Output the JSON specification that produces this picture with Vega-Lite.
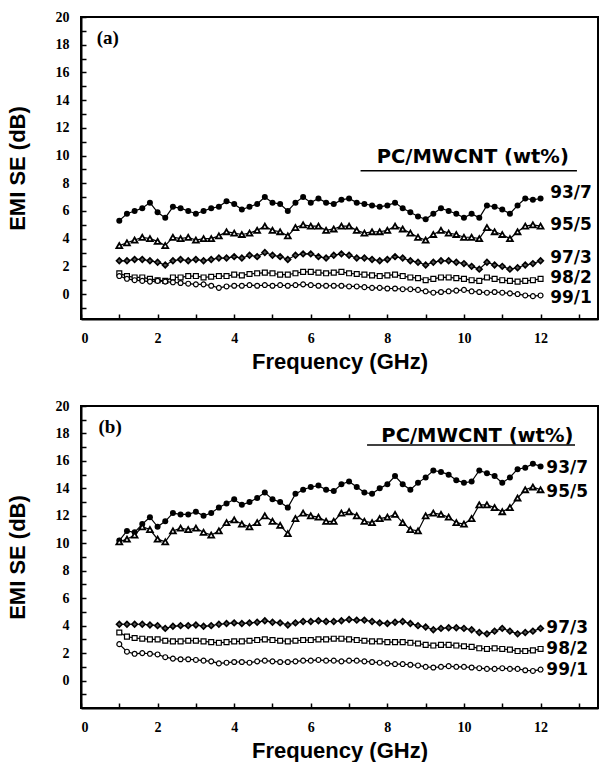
{
"$schema":"https://vega.github.io/schema/vega-lite/v6.json",
"background":"white",
"padding":{"left":5,"top":9,"right":0,"bottom":0},
"spacing":25,
"config":{
 "view":{"stroke":"black","strokeWidth":2},
 "axis":{"grid":false,"domainColor":"black","domainWidth":2,"tickColor":"black","tickWidth":1.5,"tickSize":-5,"labelFont":"Liberation Serif","labelFontWeight":"bold","labelFontSize":14,"labelColor":"black","labelPadding":17,"titleFont":"Liberation Sans","titleFontWeight":"bold","titleFontSize":22,"titleColor":"black"},
 "axisX":{"titlePadding":6},
 "axisY":{"titlePadding":26}
},
"datasets":{
"a93":[{"f":1,"v":5.3},{"f":1.2,"v":5.8},{"f":1.4,"v":6.0},{"f":1.6,"v":6.2},{"f":1.8,"v":6.6},{"f":2,"v":5.9},{"f":2.2,"v":5.5},{"f":2.4,"v":6.3},{"f":2.6,"v":6.2},{"f":2.8,"v":6.0},{"f":3,"v":5.8},{"f":3.2,"v":6.0},{"f":3.4,"v":6.2},{"f":3.6,"v":6.3},{"f":3.8,"v":6.7},{"f":4,"v":6.5},{"f":4.2,"v":6.1},{"f":4.4,"v":6.3},{"f":4.6,"v":6.5},{"f":4.8,"v":7.0},{"f":5,"v":6.6},{"f":5.2,"v":6.5},{"f":5.4,"v":6.0},{"f":5.6,"v":6.6},{"f":5.8,"v":7.0},{"f":6,"v":6.6},{"f":6.2,"v":6.9},{"f":6.4,"v":6.6},{"f":6.6,"v":6.5},{"f":6.8,"v":6.8},{"f":7,"v":6.9},{"f":7.2,"v":6.6},{"f":7.4,"v":6.5},{"f":7.6,"v":6.4},{"f":7.8,"v":6.3},{"f":8,"v":6.4},{"f":8.2,"v":6.6},{"f":8.4,"v":6.2},{"f":8.6,"v":5.9},{"f":8.8,"v":5.6},{"f":9,"v":5.4},{"f":9.2,"v":5.8},{"f":9.4,"v":6.2},{"f":9.6,"v":6.0},{"f":9.8,"v":5.8},{"f":10,"v":5.5},{"f":10.2,"v":5.8},{"f":10.4,"v":5.5},{"f":10.6,"v":6.4},{"f":10.8,"v":6.3},{"f":11,"v":6.1},{"f":11.2,"v":5.8},{"f":11.4,"v":6.4},{"f":11.6,"v":6.9},{"f":11.8,"v":6.8},{"f":12,"v":6.9}],
"a95":[{"f":1,"v":3.5},{"f":1.2,"v":3.7},{"f":1.4,"v":3.9},{"f":1.6,"v":4.1},{"f":1.8,"v":4.0},{"f":2,"v":3.8},{"f":2.2,"v":3.5},{"f":2.4,"v":4.1},{"f":2.6,"v":4.0},{"f":2.8,"v":4.1},{"f":3,"v":3.9},{"f":3.2,"v":4.0},{"f":3.4,"v":4.0},{"f":3.6,"v":4.2},{"f":3.8,"v":4.5},{"f":4,"v":4.4},{"f":4.2,"v":4.3},{"f":4.4,"v":4.4},{"f":4.6,"v":4.6},{"f":4.8,"v":4.9},{"f":5,"v":4.6},{"f":5.2,"v":4.5},{"f":5.4,"v":4.2},{"f":5.6,"v":4.8},{"f":5.8,"v":5.0},{"f":6,"v":4.9},{"f":6.2,"v":4.9},{"f":6.4,"v":4.6},{"f":6.6,"v":4.7},{"f":6.8,"v":4.9},{"f":7,"v":4.9},{"f":7.2,"v":4.6},{"f":7.4,"v":4.4},{"f":7.6,"v":4.5},{"f":7.8,"v":4.5},{"f":8,"v":4.6},{"f":8.2,"v":4.9},{"f":8.4,"v":4.7},{"f":8.6,"v":4.4},{"f":8.8,"v":4.1},{"f":9,"v":3.9},{"f":9.2,"v":4.3},{"f":9.4,"v":4.6},{"f":9.6,"v":4.4},{"f":9.8,"v":4.3},{"f":10,"v":4.1},{"f":10.2,"v":4.1},{"f":10.4,"v":4.0},{"f":10.6,"v":4.8},{"f":10.8,"v":4.5},{"f":11,"v":4.3},{"f":11.2,"v":4.0},{"f":11.4,"v":4.5},{"f":11.6,"v":4.9},{"f":11.8,"v":5.0},{"f":12,"v":4.9}],
"a97":[{"f":1,"v":2.4},{"f":1.2,"v":2.4},{"f":1.4,"v":2.5},{"f":1.6,"v":2.5},{"f":1.8,"v":2.4},{"f":2,"v":2.3},{"f":2.2,"v":2.1},{"f":2.4,"v":2.4},{"f":2.6,"v":2.5},{"f":2.8,"v":2.4},{"f":3,"v":2.5},{"f":3.2,"v":2.4},{"f":3.4,"v":2.5},{"f":3.6,"v":2.6},{"f":3.8,"v":2.6},{"f":4,"v":2.7},{"f":4.2,"v":2.6},{"f":4.4,"v":2.8},{"f":4.6,"v":2.7},{"f":4.8,"v":3.0},{"f":5,"v":2.8},{"f":5.2,"v":2.7},{"f":5.4,"v":2.5},{"f":5.6,"v":2.8},{"f":5.8,"v":2.9},{"f":6,"v":2.9},{"f":6.2,"v":2.7},{"f":6.4,"v":2.6},{"f":6.6,"v":2.8},{"f":6.8,"v":2.9},{"f":7,"v":2.8},{"f":7.2,"v":2.6},{"f":7.4,"v":2.6},{"f":7.6,"v":2.5},{"f":7.8,"v":2.4},{"f":8,"v":2.5},{"f":8.2,"v":2.7},{"f":8.4,"v":2.6},{"f":8.6,"v":2.4},{"f":8.8,"v":2.3},{"f":9,"v":2.1},{"f":9.2,"v":2.3},{"f":9.4,"v":2.4},{"f":9.6,"v":2.4},{"f":9.8,"v":2.3},{"f":10,"v":2.2},{"f":10.2,"v":2.0},{"f":10.4,"v":1.8},{"f":10.6,"v":2.3},{"f":10.8,"v":2.1},{"f":11,"v":2.0},{"f":11.2,"v":1.8},{"f":11.4,"v":1.9},{"f":11.6,"v":2.1},{"f":11.8,"v":2.2},{"f":12,"v":2.4}],
"a98":[{"f":1,"v":1.5},{"f":1.2,"v":1.3},{"f":1.4,"v":1.2},{"f":1.6,"v":1.2},{"f":1.8,"v":1.1},{"f":2,"v":1.0},{"f":2.2,"v":0.95},{"f":2.4,"v":1.2},{"f":2.6,"v":1.2},{"f":2.8,"v":1.3},{"f":3,"v":1.3},{"f":3.2,"v":1.2},{"f":3.4,"v":1.25},{"f":3.6,"v":1.3},{"f":3.8,"v":1.3},{"f":4,"v":1.4},{"f":4.2,"v":1.35},{"f":4.4,"v":1.45},{"f":4.6,"v":1.5},{"f":4.8,"v":1.55},{"f":5,"v":1.5},{"f":5.2,"v":1.4},{"f":5.4,"v":1.4},{"f":5.6,"v":1.5},{"f":5.8,"v":1.6},{"f":6,"v":1.6},{"f":6.2,"v":1.55},{"f":6.4,"v":1.5},{"f":6.6,"v":1.55},{"f":6.8,"v":1.6},{"f":7,"v":1.5},{"f":7.2,"v":1.45},{"f":7.4,"v":1.4},{"f":7.6,"v":1.35},{"f":7.8,"v":1.3},{"f":8,"v":1.35},{"f":8.2,"v":1.4},{"f":8.4,"v":1.3},{"f":8.6,"v":1.2},{"f":8.8,"v":1.15},{"f":9,"v":1.0},{"f":9.2,"v":1.1},{"f":9.4,"v":1.2},{"f":9.6,"v":1.2},{"f":9.8,"v":1.15},{"f":10,"v":1.1},{"f":10.2,"v":1.0},{"f":10.4,"v":0.95},{"f":10.6,"v":1.2},{"f":10.8,"v":1.1},{"f":11,"v":1.0},{"f":11.2,"v":0.95},{"f":11.4,"v":0.9},{"f":11.6,"v":0.95},{"f":11.8,"v":1.0},{"f":12,"v":1.1}],
"a99":[{"f":1,"v":1.3},{"f":1.2,"v":1.1},{"f":1.4,"v":1.0},{"f":1.6,"v":0.95},{"f":1.8,"v":0.9},{"f":2,"v":0.95},{"f":2.2,"v":0.9},{"f":2.4,"v":0.85},{"f":2.6,"v":0.8},{"f":2.8,"v":0.75},{"f":3,"v":0.7},{"f":3.2,"v":0.7},{"f":3.4,"v":0.6},{"f":3.6,"v":0.45},{"f":3.8,"v":0.55},{"f":4,"v":0.6},{"f":4.2,"v":0.6},{"f":4.4,"v":0.65},{"f":4.6,"v":0.6},{"f":4.8,"v":0.65},{"f":5,"v":0.6},{"f":5.2,"v":0.65},{"f":5.4,"v":0.6},{"f":5.6,"v":0.65},{"f":5.8,"v":0.7},{"f":6,"v":0.65},{"f":6.2,"v":0.6},{"f":6.4,"v":0.6},{"f":6.6,"v":0.6},{"f":6.8,"v":0.6},{"f":7,"v":0.55},{"f":7.2,"v":0.55},{"f":7.4,"v":0.5},{"f":7.6,"v":0.45},{"f":7.8,"v":0.45},{"f":8,"v":0.4},{"f":8.2,"v":0.4},{"f":8.4,"v":0.35},{"f":8.6,"v":0.35},{"f":8.8,"v":0.3},{"f":9,"v":0.2},{"f":9.2,"v":0.1},{"f":9.4,"v":0.15},{"f":9.6,"v":0.2},{"f":9.8,"v":0.25},{"f":10,"v":0.3},{"f":10.2,"v":0.2},{"f":10.4,"v":0.15},{"f":10.6,"v":0.1},{"f":10.8,"v":0.15},{"f":11,"v":0.1},{"f":11.2,"v":0.05},{"f":11.4,"v":0.0},{"f":11.6,"v":-0.1},{"f":11.8,"v":-0.15},{"f":12,"v":-0.1}],
"b93":[{"f":1,"v":10.2},{"f":1.2,"v":10.9},{"f":1.4,"v":10.8},{"f":1.6,"v":11.4},{"f":1.8,"v":11.9},{"f":2,"v":11.2},{"f":2.2,"v":11.6},{"f":2.4,"v":12.2},{"f":2.6,"v":12.1},{"f":2.8,"v":12.1},{"f":3,"v":12.3},{"f":3.2,"v":12.0},{"f":3.4,"v":12.2},{"f":3.6,"v":12.6},{"f":3.8,"v":12.9},{"f":4,"v":13.2},{"f":4.2,"v":12.8},{"f":4.4,"v":13.0},{"f":4.6,"v":13.3},{"f":4.8,"v":13.7},{"f":5,"v":13.2},{"f":5.2,"v":13.0},{"f":5.4,"v":12.6},{"f":5.6,"v":13.6},{"f":5.8,"v":13.9},{"f":6,"v":14.1},{"f":6.2,"v":14.2},{"f":6.4,"v":13.9},{"f":6.6,"v":13.8},{"f":6.8,"v":14.3},{"f":7,"v":14.5},{"f":7.2,"v":14.1},{"f":7.4,"v":13.7},{"f":7.6,"v":13.6},{"f":7.8,"v":14.0},{"f":8,"v":14.3},{"f":8.2,"v":14.9},{"f":8.4,"v":14.3},{"f":8.6,"v":13.9},{"f":8.8,"v":14.4},{"f":9,"v":14.8},{"f":9.2,"v":15.3},{"f":9.4,"v":15.2},{"f":9.6,"v":15.0},{"f":9.8,"v":14.6},{"f":10,"v":14.4},{"f":10.2,"v":14.5},{"f":10.4,"v":15.3},{"f":10.6,"v":15.1},{"f":10.8,"v":14.9},{"f":11,"v":14.4},{"f":11.2,"v":14.8},{"f":11.4,"v":15.4},{"f":11.6,"v":15.5},{"f":11.8,"v":15.8},{"f":12,"v":15.6}],
"b95":[{"f":1,"v":10.1},{"f":1.2,"v":10.3},{"f":1.4,"v":10.6},{"f":1.6,"v":11.2},{"f":1.8,"v":11.0},{"f":2,"v":10.3},{"f":2.2,"v":10.1},{"f":2.4,"v":10.9},{"f":2.6,"v":11.1},{"f":2.8,"v":11.0},{"f":3,"v":11.1},{"f":3.2,"v":10.8},{"f":3.4,"v":10.6},{"f":3.6,"v":10.9},{"f":3.8,"v":11.5},{"f":4,"v":11.7},{"f":4.2,"v":11.4},{"f":4.4,"v":11.2},{"f":4.6,"v":11.5},{"f":4.8,"v":12.0},{"f":5,"v":11.6},{"f":5.2,"v":11.3},{"f":5.4,"v":10.7},{"f":5.6,"v":11.8},{"f":5.8,"v":12.2},{"f":6,"v":12.0},{"f":6.2,"v":11.9},{"f":6.4,"v":11.6},{"f":6.6,"v":11.6},{"f":6.8,"v":12.2},{"f":7,"v":12.3},{"f":7.2,"v":12.0},{"f":7.4,"v":11.6},{"f":7.6,"v":11.5},{"f":7.8,"v":11.8},{"f":8,"v":11.9},{"f":8.2,"v":12.1},{"f":8.4,"v":11.5},{"f":8.6,"v":11.0},{"f":8.8,"v":10.9},{"f":9,"v":12.0},{"f":9.2,"v":12.2},{"f":9.4,"v":12.1},{"f":9.6,"v":11.9},{"f":9.8,"v":11.5},{"f":10,"v":11.4},{"f":10.2,"v":11.8},{"f":10.4,"v":12.8},{"f":10.6,"v":12.8},{"f":10.8,"v":12.6},{"f":11,"v":12.3},{"f":11.2,"v":12.6},{"f":11.4,"v":13.3},{"f":11.6,"v":13.9},{"f":11.8,"v":14.1},{"f":12,"v":13.9}],
"b97":[{"f":1,"v":4.1},{"f":1.2,"v":4.1},{"f":1.4,"v":4.1},{"f":1.6,"v":4.1},{"f":1.8,"v":4.05},{"f":2,"v":4.0},{"f":2.2,"v":3.8},{"f":2.4,"v":3.95},{"f":2.6,"v":4.0},{"f":2.8,"v":4.0},{"f":3,"v":4.05},{"f":3.2,"v":3.95},{"f":3.4,"v":4.0},{"f":3.6,"v":4.1},{"f":3.8,"v":4.15},{"f":4,"v":4.2},{"f":4.2,"v":4.15},{"f":4.4,"v":4.2},{"f":4.6,"v":4.25},{"f":4.8,"v":4.35},{"f":5,"v":4.25},{"f":5.2,"v":4.2},{"f":5.4,"v":4.05},{"f":5.6,"v":4.2},{"f":5.8,"v":4.3},{"f":6,"v":4.3},{"f":6.2,"v":4.35},{"f":6.4,"v":4.3},{"f":6.6,"v":4.3},{"f":6.8,"v":4.35},{"f":7,"v":4.45},{"f":7.2,"v":4.4},{"f":7.4,"v":4.4},{"f":7.6,"v":4.3},{"f":7.8,"v":4.2},{"f":8,"v":4.15},{"f":8.2,"v":4.25},{"f":8.4,"v":4.3},{"f":8.6,"v":4.15},{"f":8.8,"v":4.0},{"f":9,"v":3.9},{"f":9.2,"v":3.7},{"f":9.4,"v":3.8},{"f":9.6,"v":3.85},{"f":9.8,"v":3.85},{"f":10,"v":3.8},{"f":10.2,"v":3.7},{"f":10.4,"v":3.5},{"f":10.6,"v":3.4},{"f":10.8,"v":3.6},{"f":11,"v":3.8},{"f":11.2,"v":3.6},{"f":11.4,"v":3.4},{"f":11.6,"v":3.5},{"f":11.8,"v":3.6},{"f":12,"v":3.8}],
"b98":[{"f":1,"v":3.5},{"f":1.2,"v":3.2},{"f":1.4,"v":3.1},{"f":1.6,"v":3.05},{"f":1.8,"v":3.0},{"f":2,"v":3.0},{"f":2.2,"v":2.9},{"f":2.4,"v":2.85},{"f":2.6,"v":2.85},{"f":2.8,"v":2.9},{"f":3,"v":2.9},{"f":3.2,"v":2.85},{"f":3.4,"v":2.8},{"f":3.6,"v":2.75},{"f":3.8,"v":2.8},{"f":4,"v":2.85},{"f":4.2,"v":2.85},{"f":4.4,"v":2.9},{"f":4.6,"v":2.95},{"f":4.8,"v":3.0},{"f":5,"v":2.95},{"f":5.2,"v":2.9},{"f":5.4,"v":2.85},{"f":5.6,"v":2.9},{"f":5.8,"v":2.95},{"f":6,"v":2.95},{"f":6.2,"v":3.0},{"f":6.4,"v":3.0},{"f":6.6,"v":3.05},{"f":6.8,"v":3.05},{"f":7,"v":3.0},{"f":7.2,"v":2.95},{"f":7.4,"v":2.9},{"f":7.6,"v":2.85},{"f":7.8,"v":2.85},{"f":8,"v":2.8},{"f":8.2,"v":2.8},{"f":8.4,"v":2.8},{"f":8.6,"v":2.75},{"f":8.8,"v":2.7},{"f":9,"v":2.6},{"f":9.2,"v":2.55},{"f":9.4,"v":2.6},{"f":9.6,"v":2.6},{"f":9.8,"v":2.55},{"f":10,"v":2.5},{"f":10.2,"v":2.45},{"f":10.4,"v":2.35},{"f":10.6,"v":2.3},{"f":10.8,"v":2.35},{"f":11,"v":2.3},{"f":11.2,"v":2.25},{"f":11.4,"v":2.15},{"f":11.6,"v":2.15},{"f":11.8,"v":2.2},{"f":12,"v":2.3}],
"b99":[{"f":1,"v":2.65},{"f":1.2,"v":2.1},{"f":1.4,"v":1.95},{"f":1.6,"v":2.0},{"f":1.8,"v":1.95},{"f":2,"v":1.9},{"f":2.2,"v":1.7},{"f":2.4,"v":1.6},{"f":2.6,"v":1.55},{"f":2.8,"v":1.55},{"f":3,"v":1.5},{"f":3.2,"v":1.45},{"f":3.4,"v":1.4},{"f":3.6,"v":1.25},{"f":3.8,"v":1.3},{"f":4,"v":1.35},{"f":4.2,"v":1.35},{"f":4.4,"v":1.3},{"f":4.6,"v":1.4},{"f":4.8,"v":1.45},{"f":5,"v":1.4},{"f":5.2,"v":1.35},{"f":5.4,"v":1.35},{"f":5.6,"v":1.4},{"f":5.8,"v":1.45},{"f":6,"v":1.45},{"f":6.2,"v":1.5},{"f":6.4,"v":1.45},{"f":6.6,"v":1.45},{"f":6.8,"v":1.4},{"f":7,"v":1.45},{"f":7.2,"v":1.45},{"f":7.4,"v":1.4},{"f":7.6,"v":1.35},{"f":7.8,"v":1.3},{"f":8,"v":1.25},{"f":8.2,"v":1.2},{"f":8.4,"v":1.2},{"f":8.6,"v":1.15},{"f":8.8,"v":1.1},{"f":9,"v":1.0},{"f":9.2,"v":0.95},{"f":9.4,"v":1.0},{"f":9.6,"v":1.05},{"f":9.8,"v":1.0},{"f":10,"v":1.0},{"f":10.2,"v":0.95},{"f":10.4,"v":0.9},{"f":10.6,"v":0.85},{"f":10.8,"v":0.85},{"f":11,"v":0.9},{"f":11.2,"v":0.85},{"f":11.4,"v":0.85},{"f":11.6,"v":0.75},{"f":11.8,"v":0.7},{"f":12,"v":0.8}]
},
"vconcat":[
{
 "width":517,"height":302,
 "encoding":{
  "x":{"field":"f","type":"quantitative","scale":{"domain":[0,13.5],"nice":false,"zero":false},"axis":{"values":[0,1,2,3,4,5,6,7,8,9,10,11,12,13],"labelExpr":"datum.value % 2 ? '' : datum.label","title":"Frequency (GHz)"}},
  "y":{"field":"v","type":"quantitative","scale":{"domain":[-1.8,20],"nice":false,"zero":false},"axis":{"values":[-1,0,1,2,3,4,5,6,7,8,9,10,11,12,13,14,15,16,17,18,19,20],"labelExpr":"datum.value % 2 ? '' : datum.label","title":"EMI SE (dB)"}}
 },
 "layer":[
  {"data":{"name":"a93"},"mark":{"type":"line","color":"black","strokeWidth":1.2,"point":{"shape":"circle","filled":true,"color":"black","size":36}},"encoding":{}},
  {"data":{"name":"a95"},"mark":{"type":"line","color":"black","strokeWidth":1.2,"point":{"shape":"triangle-up","filled":true,"fill":"white","stroke":"black","strokeWidth":1.8,"size":34}},"encoding":{}},
  {"data":{"name":"a97"},"mark":{"type":"line","color":"black","strokeWidth":1.2,"point":{"shape":"diamond","filled":true,"fill":"#555","stroke":"black","strokeWidth":1.6,"size":32}},"encoding":{}},
  {"data":{"name":"a98"},"mark":{"type":"line","color":"black","strokeWidth":1.2,"point":{"shape":"square","filled":true,"fill":"white","stroke":"black","strokeWidth":1.2,"size":24}},"encoding":{}},
  {"data":{"name":"a99"},"mark":{"type":"line","color":"black","strokeWidth":1.2,"point":{"shape":"circle","filled":true,"fill":"white","stroke":"black","strokeWidth":1.2,"size":24}},"encoding":{}},
  {"data":{"values":[{"f":12.25,"v":7.3,"t":"93/7"},{"f":12.25,"v":5.0,"t":"95/5"},{"f":12.25,"v":2.6,"t":"97/3"},{"f":12.25,"v":1.15,"t":"98/2"},{"f":12.25,"v":-0.3,"t":"99/1"}]},"mark":{"type":"text","align":"left","baseline":"middle","font":"DejaVu Sans","fontWeight":"bold","fontSize":17,"color":"black"},"encoding":{"text":{"field":"t"}}},
  {"data":{"values":[{"f":10.23,"v":9.9,"t":"PC/MWCNT (wt%)"}]},"mark":{"type":"text","align":"center","baseline":"middle","font":"DejaVu Sans","fontWeight":"bold","fontSize":19.5,"color":"black"},"encoding":{"text":{"field":"t"}}},
  {"data":{"values":[{"f":7.3,"f2":12.95,"v":8.9}]},"mark":{"type":"rule","color":"black","strokeWidth":1.5},"encoding":{"x2":{"field":"f2"}}},
  {"data":{"values":[{"f":0.7,"v":18.5,"t":"(a)"}]},"mark":{"type":"text","align":"center","baseline":"middle","font":"Liberation Serif","fontWeight":"bold","fontSize":19,"color":"black"},"encoding":{"text":{"field":"t"}}}
 ]
},
{
 "width":517,"height":302,
 "encoding":{
  "x":{"field":"f","type":"quantitative","scale":{"domain":[0,13.5],"nice":false,"zero":false},"axis":{"values":[0,1,2,3,4,5,6,7,8,9,10,11,12,13],"labelExpr":"datum.value % 2 ? '' : datum.label","title":"Frequency (GHz)"}},
  "y":{"field":"v","type":"quantitative","scale":{"domain":[-2,20],"nice":false,"zero":false},"axis":{"values":[-1,0,1,2,3,4,5,6,7,8,9,10,11,12,13,14,15,16,17,18,19,20],"labelExpr":"datum.value % 2 ? '' : datum.label","title":"EMI SE (dB)"}}
 },
 "layer":[
  {"data":{"name":"b93"},"mark":{"type":"line","color":"black","strokeWidth":1.2,"point":{"shape":"circle","filled":true,"color":"black","size":36}},"encoding":{}},
  {"data":{"name":"b95"},"mark":{"type":"line","color":"black","strokeWidth":1.2,"point":{"shape":"triangle-up","filled":true,"fill":"white","stroke":"black","strokeWidth":1.8,"size":34}},"encoding":{}},
  {"data":{"name":"b97"},"mark":{"type":"line","color":"black","strokeWidth":1.2,"point":{"shape":"diamond","filled":true,"fill":"#555","stroke":"black","strokeWidth":1.6,"size":32}},"encoding":{}},
  {"data":{"name":"b98"},"mark":{"type":"line","color":"black","strokeWidth":1.2,"point":{"shape":"square","filled":true,"fill":"white","stroke":"black","strokeWidth":1.2,"size":24}},"encoding":{}},
  {"data":{"name":"b99"},"mark":{"type":"line","color":"black","strokeWidth":1.2,"point":{"shape":"circle","filled":true,"fill":"white","stroke":"black","strokeWidth":1.2,"size":24}},"encoding":{}},
  {"data":{"values":[{"f":12.15,"v":15.5,"t":"93/7"},{"f":12.15,"v":13.7,"t":"95/5"},{"f":12.15,"v":3.85,"t":"97/3"},{"f":12.15,"v":2.3,"t":"98/2"},{"f":12.15,"v":0.8,"t":"99/1"}]},"mark":{"type":"text","align":"left","baseline":"middle","font":"DejaVu Sans","fontWeight":"bold","fontSize":17,"color":"black"},"encoding":{"text":{"field":"t"}}},
  {"data":{"values":[{"f":10.35,"v":17.8,"t":"PC/MWCNT (wt%)"}]},"mark":{"type":"text","align":"center","baseline":"middle","font":"DejaVu Sans","fontWeight":"bold","fontSize":19.5,"color":"black"},"encoding":{"text":{"field":"t"}}},
  {"data":{"values":[{"f":7.47,"f2":12.9,"v":17.15}]},"mark":{"type":"rule","color":"black","strokeWidth":1.5},"encoding":{"x2":{"field":"f2"}}},
  {"data":{"values":[{"f":0.76,"v":18.5,"t":"(b)"}]},"mark":{"type":"text","align":"center","baseline":"middle","font":"Liberation Serif","fontWeight":"bold","fontSize":19,"color":"black"},"encoding":{"text":{"field":"t"}}}
 ]
}
]
}
